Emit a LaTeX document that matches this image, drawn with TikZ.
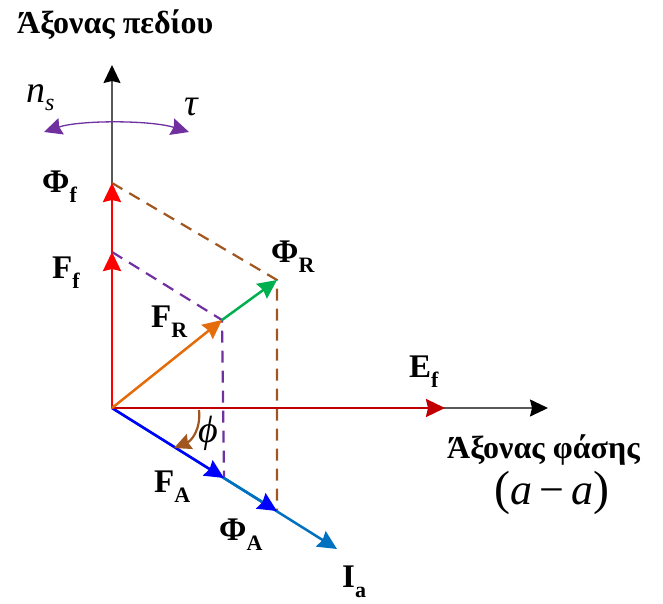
\documentclass[tikz,border=0pt]{standalone}
\usepackage{fontspec}
\setmainfont{Liberation Serif}
\usetikzlibrary{arrows.meta,calc}
\definecolor{cred}{HTML}{FF0000}
\definecolor{cdred}{HTML}{C00000}
\definecolor{corange}{HTML}{E46C0A}
\definecolor{cgreen}{HTML}{00B050}
\definecolor{cblue}{HTML}{0000FF}
\definecolor{clblue}{HTML}{0070C0}
\definecolor{cbrown}{HTML}{A0561E}
\definecolor{cpurple}{HTML}{7030A0}
\definecolor{caxis}{HTML}{595959}
\newcommand{\lb}[2]{#1\raisebox{-10pt}{\fontsize{22}{22}\selectfont #2}}
\tikzset{
  tip/.tip={Stealth[length=19pt,width=18pt,inset=2pt]},
  vecline/.style={line width=2.5pt,-tip},
  axline/.style={line width=1.4pt,draw=caxis,-{Stealth[length=18pt,width=17pt,inset=2pt,color=black]}},
  dsh/.style={line width=2.2pt,dash pattern=on 12pt off 8pt},
  lbl/.style={font=\fontsize{33}{33}\selectfont\bfseries,inner sep=0pt,anchor=base west},
  itl/.style={font=\fontsize{38}{38}\selectfont\itshape,inner sep=0pt},
  ttl/.style={font=\fontsize{32}{32}\selectfont\bfseries,inner sep=0pt,anchor=base west}
}
\begin{document}
\begin{tikzpicture}[x=1pt,y=-1pt]
\useasboundingbox (0,0) rectangle (663,603);
% points
\coordinate (O) at (112,408);
\coordinate (Yend) at (112,65);
\coordinate (Xend) at (548,408);
\coordinate (Ff) at (112,252);
\coordinate (Phif) at (112,183);
\coordinate (FR) at (222,320);
\coordinate (PhiR) at (277,280);
\coordinate (Ef) at (445,408);
\coordinate (FA) at (224,478);
\coordinate (PhiA) at (277,511);
\coordinate (Ia) at (337,549);
% axes
\draw[axline] (O) -- (Yend);
\draw[axline] (O) -- (Xend);
% dashed projections
\draw[dsh,cbrown] (Phif) -- (PhiR) -- (PhiA);
\draw[dsh,cpurple] (Ff) -- (FR) -- (FA);
% vectors
\draw[vecline,clblue] (O) -- (Ia);
\draw[line width=2.5pt,clblue,-{Stealth[length=19pt,width=18pt,inset=2pt,color=cblue]}] (FA) -- (PhiA);
\draw[vecline,cblue] (O) -- (FA);
\draw[vecline,cdred] (O) -- (Ef);
\draw[vecline,cred,line width=2.9pt] (O) -- (Ff);
\draw[vecline,cred,line width=2.9pt] (Ff) -- (Phif);
\draw[vecline,corange] (O) -- (FR);
\draw[vecline,cgreen] (FR) -- (PhiR);
% angle phi
\draw[line width=2.2pt,cbrown,-{Stealth[length=17pt,width=16pt,inset=2pt]}] (199,410) .. controls (201,430) and (191,441) .. (174,448);
% rotation arc
\draw[line width=1.3pt,cpurple,{Stealth[length=18pt,width=17pt,inset=2pt]}-{Stealth[length=18pt,width=17pt,inset=2pt]}] (44,132) .. controls (80,120) and (150,120) .. (189,132);
% labels
\node[ttl] (tY) at (17,33) {Άξονας πεδίου};
\node[ttl] (tX) at (447,458) {Άξονας φάσης};
\node[itl,anchor=base west] (lns) at (26,102) {n\raisebox{-8pt}{\fontsize{24}{24}\selectfont s}};
\node[itl,anchor=base west] (ltau) at (184,115) {τ};
\node[itl] (lphi) at (208,433) {ϕ};
\node[lbl] (lPhif) at (42,192) {\lb{Φ}{f}};
\node[lbl] (lFf) at (52,278) {\lb{F}{f}};
\node[lbl] (lPhiR) at (271,262) {\lb{Φ}{R}};
\node[lbl] (lFR) at (151,327) {\lb{F}{R}};
\node[lbl] (lEf) at (409,377) {\lb{E}{f}};
\node[lbl] (lFA) at (154,492) {\lb{F}{A}};
\node[lbl] (lPhiA) at (219,540) {\lb{Φ}{A}};
\node[lbl] (lIa) at (342,587) {\lb{I}{a}};
\node[inner sep=0pt] (laa) at (552,493) {{\fontsize{48}{48}\selectfont(}{\fontsize{44}{44}\selectfont\itshape a\,\upshape−\,\itshape a}{\fontsize{48}{48}\selectfont)}};
\end{tikzpicture}
\end{document}
